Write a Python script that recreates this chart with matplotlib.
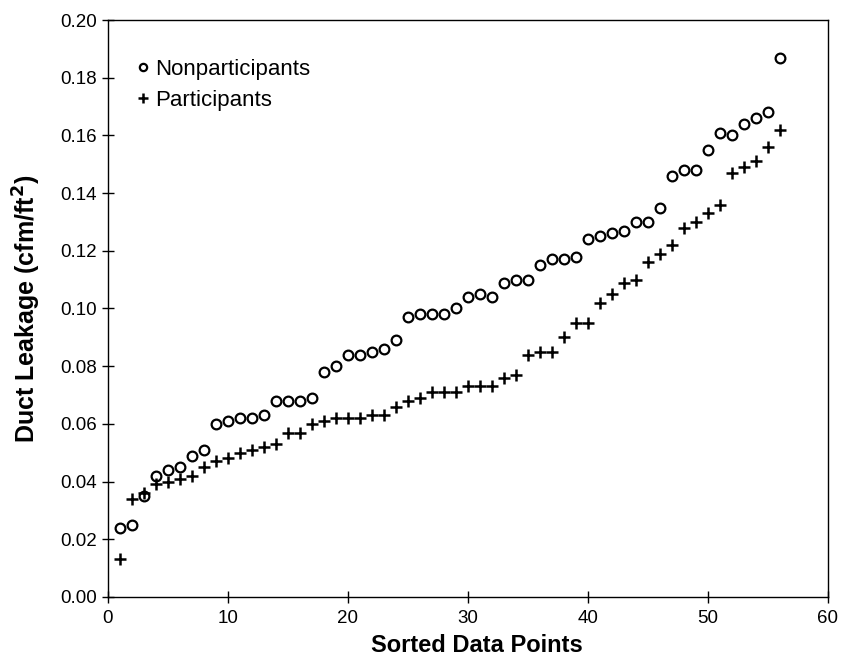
import numpy as np
import matplotlib
matplotlib.use("Agg")
import matplotlib.pyplot as plt

# -----------------------------
# DATA
# -----------------------------
sorted_points = list(range(1, 57))

nonparticipants = [
    0.024, 0.025, 0.035, 0.042, 0.044, 0.045, 0.049, 0.051, 0.060, 0.061,
    0.062, 0.062, 0.063, 0.068, 0.068, 0.068, 0.069, 0.078, 0.080, 0.084,
    0.084, 0.085, 0.086, 0.089, 0.097, 0.098, 0.098, 0.098, 0.100, 0.104,
    0.105, 0.104, 0.109, 0.110, 0.110, 0.115, 0.117, 0.117, 0.118, 0.124,
    0.125, 0.126, 0.127, 0.130, 0.130, 0.135, 0.146, 0.148, 0.148, 0.155,
    0.161, 0.160, 0.164, 0.166, 0.168, 0.187,
]

participants = [
    0.013, 0.034, 0.036, 0.039, 0.040, 0.041, 0.042, 0.045, 0.047, 0.048,
    0.050, 0.051, 0.052, 0.053, 0.057, 0.057, 0.060, 0.061, 0.062, 0.062,
    0.062, 0.063, 0.063, 0.066, 0.068, 0.069, 0.071, 0.071, 0.071, 0.073,
    0.073, 0.073, 0.076, 0.077, 0.084, 0.085, 0.085, 0.090, 0.095, 0.095,
    0.102, 0.105, 0.109, 0.110, 0.116, 0.119, 0.122, 0.128, 0.130, 0.133,
    0.136, 0.147, 0.149, 0.151, 0.156, 0.162,
]

x_ticks = [0, 10, 20, 30, 40, 50, 60]
y_ticks = [0.00, 0.02, 0.04, 0.06, 0.08, 0.10, 0.12, 0.14, 0.16, 0.18, 0.20]

# -----------------------------
# PLOT
# -----------------------------
plt.rcParams['font.family'] = ['Liberation Sans', 'DejaVu Sans']

fig = plt.figure(figsize=(8.49, 6.56), dpi=100)
ax = fig.add_axes([0.127, 0.090, 0.848, 0.8795])

ax.plot(sorted_points, nonparticipants, linestyle='none', marker='o',
        markersize=7, markerfacecolor='none', markeredgecolor='black',
        markeredgewidth=1.6, label='Nonparticipants')
ax.plot(sorted_points, participants, linestyle='none', marker='+',
        markersize=9, markeredgecolor='black', markeredgewidth=1.8,
        label='Participants')

ax.set_xlim(0, 60)
ax.set_ylim(0, 0.20)
ax.set_xticks(x_ticks)
ax.set_yticks(y_ticks)
ax.set_yticklabels([f"{v:.2f}" for v in y_ticks])
ax.tick_params(direction='inout', length=9, width=1, labelsize=13.5,
               colors='black')
ax.tick_params(axis='x', pad=5)

for s in ax.spines.values():
    s.set_linewidth(1)

ax.set_xlabel('Sorted Data Points', fontsize=17, fontweight='bold', labelpad=5)
ax.xaxis.label.set_x(0.5125)
ax.set_ylabel(r'Duct Leakage (cfm/ft$^\mathbf{2}$)', fontsize=18,
              fontweight='bold', labelpad=12)

ax.legend(loc='upper left', bbox_to_anchor=(0.036, 0.932), frameon=False,
          fontsize=16, handletextpad=0.15, handlelength=0.8,
          labelspacing=0.45, borderaxespad=0, borderpad=0, markerscale=0.75)

fig.savefig('out.png', dpi=100)
